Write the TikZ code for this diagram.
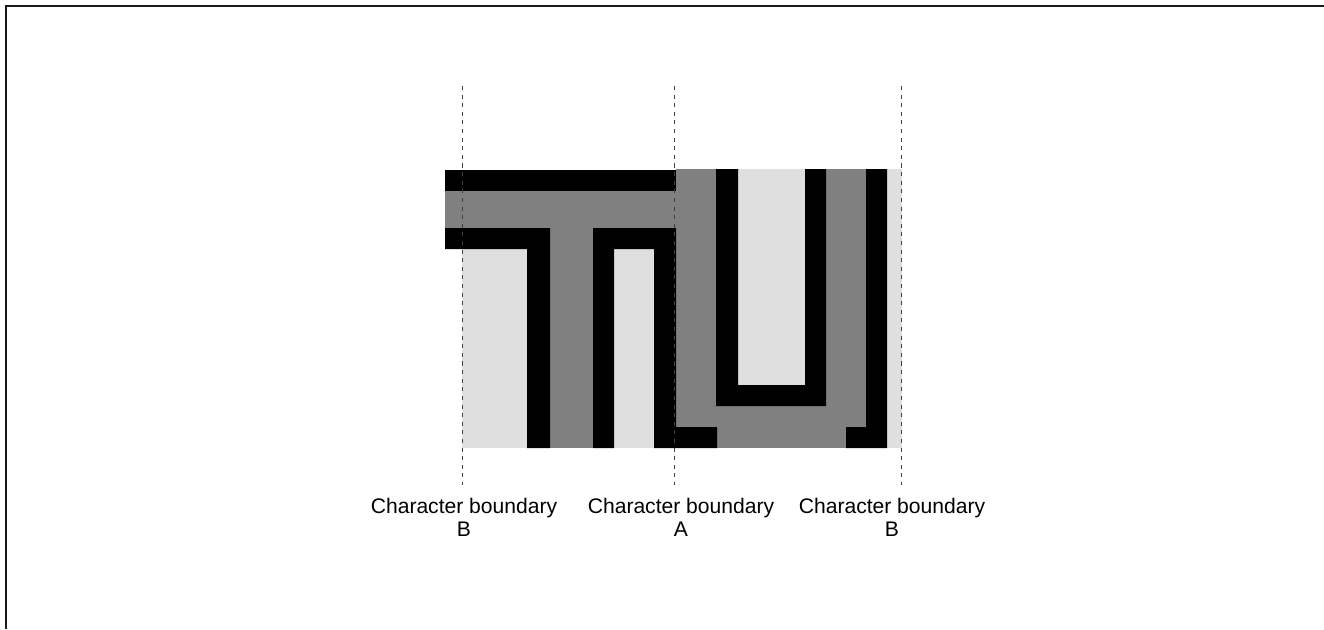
\documentclass[tikz,border=0pt]{standalone}
\usepackage{fontspec}
\setmainfont{Liberation Sans}
\usepackage{xcolor}
\usepackage{tikz}
\usetikzlibrary{calc}

\definecolor{midgrey}{RGB}{128,128,128}
\definecolor{palegrey}{RGB}{223,223,223}

\begin{document}
\begin{tikzpicture}[x=0.02cm, y=-0.02cm,
    boundary/.style={draw=black!75, line width=0.5pt, dash pattern=on 2.3pt off 2.6pt},
    bdlabel/.style={anchor=north, inner sep=0pt, align=center, font=\fontsize{12}{13.2}\selectfont}]
    \useasboundingbox (0,0) rectangle (1324,629);
    \draw[line width=1.2pt, black!90] (6,629) -- (6,6) -- (1324,6);

    % grey
    \fill[midgrey] (445,191) rectangle (676,228);
    \fill[midgrey] (550,228) rectangle (593,448);
    \fill[midgrey] (676,169) rectangle (866,448);
    % light grey
    \fill[palegrey] (462,249) rectangle (527,448);
    \fill[palegrey] (614,249) rectangle (654,448);
    \fill[palegrey] (738,169) rectangle (805,385);
    \fill[palegrey] (887,169) rectangle (902,448);
    % black
    \fill[black] (445,170) rectangle (676,191);
    \fill[black] (445,228) -| (550,448) -| (527,249) -- (445,249) -- cycle;
    \fill[black] (593,228) -| (676,427) -| (717,448) -| (654,249) -| (614,448) -- (593,448) -- cycle;
    \fill[black] (716,169) -- (716,406) -- (826,406) -- (826,169) -- (805,169) -- (805,385) -- (738,385) -- (738,169) -- cycle;
    \fill[black] (866,169) -- (887,169) -- (887,448) -- (846,448) -- (846,427) -- (866,427) -- cycle;

    % boundaries
    \coordinate (topB1) at (462,86);
    \coordinate (botB1) at (462,485);
    \coordinate (topA) at (674,86);
    \coordinate (botA) at (674,485);
    \coordinate (topB2) at (901,86);
    \coordinate (botB2) at (901,485);
    \draw[boundary] (topB1) -- (botB1);
    \draw[boundary] (topA) -- (botA);
    \draw[boundary] (topB2) -- (botB2);

    \node[bdlabel] (labB1) at (464,498) {Character boundary\\B};
    \node[bdlabel] (labA) at (681,498) {Character boundary\\A};
    \node[bdlabel] (labB2) at (892,498) {Character boundary\\B};
\end{tikzpicture}
\end{document}
